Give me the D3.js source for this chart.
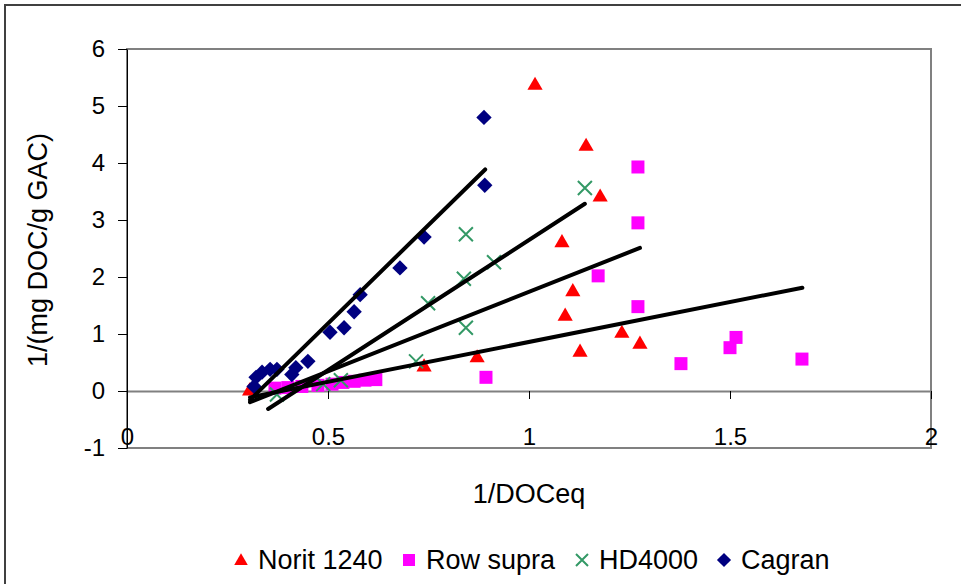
<!DOCTYPE html>
<html><head><meta charset="utf-8">
<script src="https://cdn.jsdelivr.net/npm/d3@7"></script>
<style>body{margin:0;background:#fff} text{font-family:Arial,"Liberation Sans",sans-serif;fill:#000}</style>
</head><body><svg id="c" width="961" height="584"></svg>
<script>
const seriesNames = ["Norit 1240", "Row supra", "HD4000", "Cagran"];
const seriesColors = ["#FF0000", "#FF00FF", "#339966", "#000080"];

const noritX = [1.015, 1.142, 1.177, 1.082, 1.109, 1.090, 1.127, 1.231, 1.276, 0.871, 0.739, 0.305];
const noritY = [5.36, 4.29, 3.40, 2.60, 1.74, 1.31, 0.68, 1.01, 0.82, 0.58, 0.42, 0.00];

const rowX = [0.368, 0.400, 0.435, 0.475, 0.510, 0.537, 0.565, 0.592, 0.619, 0.893, 1.271, 1.271, 1.172, 1.271, 1.515, 1.500, 1.378, 1.679];
const rowY = [0.05, 0.06, 0.08, 0.10, 0.12, 0.15, 0.17, 0.19, 0.20, 0.24, 3.93, 2.95, 2.02, 1.48, 0.94, 0.76, 0.48, 0.56];

const hdX = [0.373, 0.488, 0.532, 0.719, 0.749, 0.843, 0.838, 0.843, 0.913, 1.139];
const hdY = [-0.06, 0.12, 0.19, 0.52, 1.54, 1.11, 1.97, 2.75, 2.26, 3.56];

const cagX = [0.316, 0.321, 0.336, 0.356, 0.373, 0.410, 0.420, 0.450, 0.505, 0.540, 0.565, 0.580, 0.679, 0.739, 0.890, 0.888];
const cagY = [0.08, 0.24, 0.33, 0.38, 0.38, 0.29, 0.41, 0.52, 1.03, 1.11, 1.39, 1.69, 2.16, 2.70, 3.61, 4.80];

// linear trendlines per series (slope, intercept, x-range)
const trendSlope = [2.79, 1.40, 4.57, 6.91];
const trendIntercept = [-1.05, -0.54, -1.92, -2.27];
const trendXmin = [0.306, 0.306, 0.351, 0.306];
const trendXmax = [1.276, 1.680, 1.139, 0.891];

const xTicks = [0, 0.5, 1, 1.5, 2];
const yTicks = [-1, 0, 1, 2, 3, 4, 5, 6];

const svg = d3.select("#c");
const x = d3.scaleLinear().domain([0, 2]).range([127, 931]);
const y = d3.scaleLinear().domain([-1, 6]).range([448, 49]);
const FONT = "Arial, 'Liberation Sans', sans-serif";

// outer chart border
svg.append("path").attr("d", "M5,584V5H961").attr("fill", "none").attr("stroke", "#404040").attr("stroke-width", 2);

// plot area border
svg.append("rect").attr("x", x(0)).attr("y", y(6)).attr("width", x(2) - x(0)).attr("height", y(-1) - y(6))
  .attr("fill", "#fff").attr("stroke", "#808080").attr("stroke-width", 2);

// x axis at y=0
const xAxis = svg.append("g").attr("transform", `translate(0,${y(0)})`)
  .call(d3.axisBottom(x).tickValues(xTicks).tickSize(8).tickSizeOuter(0).tickFormat(d3.format("")));
xAxis.select(".domain").attr("stroke", "#808080").attr("stroke-width", 2);
xAxis.selectAll(".tick line").attr("stroke", "#000");
xAxis.selectAll(".tick text").attr("y", 37).attr("dy", "0.71em").style("font-size", "24px").style("font-family", FONT);

// y axis
const yAxis = svg.append("g").attr("transform", `translate(${x(0)},0)`)
  .call(d3.axisLeft(y).tickValues(yTicks).tickSize(9).tickSizeOuter(0).tickFormat(d3.format("")));
yAxis.select(".domain").attr("stroke", "#000").attr("stroke-width", 1);
yAxis.selectAll(".tick line").attr("stroke", "#000");
yAxis.selectAll(".tick text").attr("x", -22).style("font-size", "24px").style("font-family", FONT);
yAxis.selectAll(".tick text").text(d => d < 0 ? "-" + Math.abs(d) : d);

// symbols
const triPath = d3.symbol().type(d3.symbolTriangle).size(100)();
const sqPath = d3.symbol().type(d3.symbolSquare).size(169)();
const diaPath = d3.symbol().type(d3.symbolSquare).size(118)();
const xPath = "M-7,-7L7,7M-7,7L7,-7";

function drawMarkers(xs, ys, i) {
  const g = svg.append("g");
  const data = xs.map((v, k) => [v, ys[k]]);
  const sel = g.selectAll("path").data(data).join("path");
  if (i === 0) sel.attr("d", triPath).attr("fill", seriesColors[0]).attr("transform", d => `translate(${x(d[0])},${y(d[1])})`);
  if (i === 1) sel.attr("d", sqPath).attr("fill", seriesColors[1]).attr("transform", d => `translate(${x(d[0])},${y(d[1])})`);
  if (i === 2) sel.attr("d", xPath).attr("fill", "none").attr("stroke", seriesColors[2]).attr("stroke-width", 2).attr("transform", d => `translate(${x(d[0])},${y(d[1])})`);
  if (i === 3) sel.attr("d", diaPath).attr("fill", seriesColors[3]).attr("transform", d => `translate(${x(d[0])},${y(d[1])}) rotate(45)`);
}
drawMarkers(noritX, noritY, 0);
drawMarkers(rowX, rowY, 1);
drawMarkers(hdX, hdY, 2);
drawMarkers(cagX, cagY, 3);

// trendlines
const tg = svg.append("g");
trendSlope.forEach((m, i) => {
  const x0 = trendXmin[i], x1 = trendXmax[i];
  tg.append("line")
    .attr("x1", x(x0)).attr("y1", y(m * x0 + trendIntercept[i]))
    .attr("x2", x(x1)).attr("y2", y(m * x1 + trendIntercept[i]))
    .attr("stroke", "#000").attr("stroke-width", 4).attr("stroke-linecap", "round");
});

// axis titles
svg.append("text").attr("x", x(1)).attr("y", 494).attr("dy", "0.35em").attr("text-anchor", "middle")
  .style("font-size", "27px").text("1/DOCeq");
svg.append("text").attr("transform", "translate(38,250) rotate(-90)").attr("dy", "0.35em").attr("text-anchor", "middle")
  .style("font-size", "27px").text("1/(mg DOC/g GAC)");

// legend
const legX = [241, 409, 582, 724];
const legY = 560;
const lg = svg.append("g");
seriesNames.forEach((name, i) => {
  const cx = legX[i];
  if (i === 0) lg.append("path").attr("d", d3.symbol().type(d3.symbolTriangle).size(80)()).attr("fill", seriesColors[0]).attr("transform", `translate(${cx},${legY + 1})`);
  if (i === 1) lg.append("path").attr("d", d3.symbol().type(d3.symbolSquare).size(144)()).attr("fill", seriesColors[1]).attr("transform", `translate(${cx},${legY})`);
  if (i === 2) lg.append("path").attr("d", "M-6,-6L6,6M-6,6L6,-6").attr("fill", "none").attr("stroke", seriesColors[2]).attr("stroke-width", 2).attr("transform", `translate(${cx},${legY})`);
  if (i === 3) lg.append("path").attr("d", d3.symbol().type(d3.symbolSquare).size(100)()).attr("fill", seriesColors[3]).attr("transform", `translate(${cx},${legY}) rotate(45)`);
  lg.append("text").attr("x", cx + 17).attr("y", legY).attr("dy", "0.35em").style("font-size", "27px").text(name);
});
</script></body></html>
